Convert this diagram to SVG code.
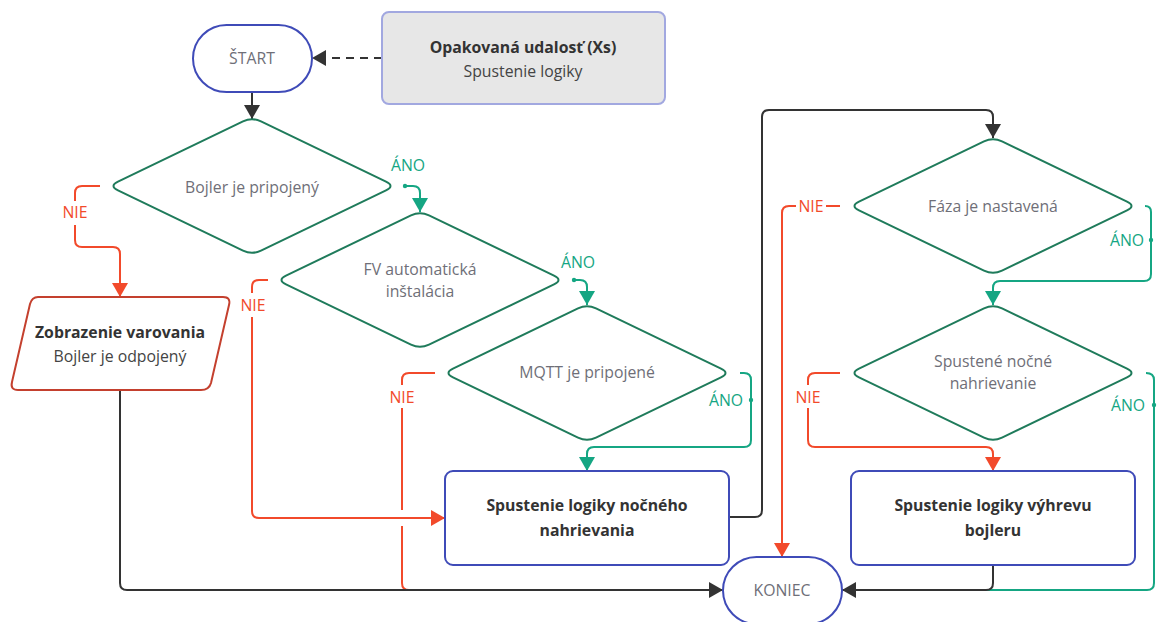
<svg xmlns="http://www.w3.org/2000/svg" width="1157" height="622" viewBox="0 0 1157 622">
<style>
text{font-family:"Open Sans","Noto Sans","Liberation Sans",sans-serif;font-size:15.8px;text-anchor:middle;dominant-baseline:central}
.t{fill:#6f6f78}
.b{fill:#333;font-weight:bold}
.n{fill:#444}
.pill{fill:#fff;stroke:#3f4bb8;stroke-width:2}
.box{fill:#fff;stroke:#3f4bb8;stroke-width:2}
.dia{fill:#fff;stroke:#1f7b5b;stroke-width:2}
.c{fill:none;stroke-width:2}
.k{stroke:#333}
.r{stroke:#f24a2b}
.g{stroke:#15a683}
.lr{fill:#f24a2b}
.lg{fill:#15a683}
</style>
<defs>
<marker id="ak" viewBox="0 0 14 16" refX="14" refY="8" markerWidth="14" markerHeight="16" markerUnits="userSpaceOnUse" orient="auto"><path d="M0,0 L14,8 L0,16 Z" fill="#333"/></marker>
<marker id="ar" viewBox="0 0 14 16" refX="14" refY="8" markerWidth="14" markerHeight="16" markerUnits="userSpaceOnUse" orient="auto"><path d="M0,0 L14,8 L0,16 Z" fill="#f24a2b"/></marker>
<marker id="ag" viewBox="0 0 14 16" refX="14" refY="8" markerWidth="14" markerHeight="16" markerUnits="userSpaceOnUse" orient="auto"><path d="M0,0 L14,8 L0,16 Z" fill="#15a683"/></marker>
<path id="dshape" d="M-134,-4.35 L-9,-64.65 Q0,-69 9,-64.65 L134,-4.35 Q143,0 134,4.35 L9,64.65 Q0,69 -9,64.65 L-134,4.35 Q-143,0 -134,-4.35 Z"/>
</defs>

<g id="connectors">
<path class="c k" d="M252,92 V119" marker-end="url(#ak)"/>
<path class="c k" d="M382,58 H312" stroke-dasharray="8,6" marker-end="url(#ak)"/>
<!-- D1 NIE -->
<path class="c r" d="M100,186 H82 Q75,186 75,193 V201"/>
<path class="c r" d="M75,225 V240 Q75,247 82,247 H113 Q120,247 120,254 V297" marker-end="url(#ar)"/>
<text class="lr" x="75" y="212">NIE</text>
<!-- D1 ANO -->
<path class="c g" d="M405,186 H413 Q420,186 420,193 V212" marker-end="url(#ag)"/>
<circle cx="405" cy="186" r="2.2" fill="#15a683"/>
<text class="lg" x="408" y="165">ÁNO</text>
<!-- D2 NIE -->
<path class="c r" d="M268,280 H259 Q252,280 252,287 V293"/>
<path class="c r" d="M252,317 V511 Q252,518 259,518 H445" marker-end="url(#ar)"/>
<text class="lr" x="253" y="305">NIE</text>
<!-- D2 ANO -->
<path class="c g" d="M574,280 H580 Q587,280 587,287 V305" marker-end="url(#ag)"/>
<circle cx="574" cy="280" r="2.2" fill="#15a683"/>
<text class="lg" x="578" y="262">ÁNO</text>
<!-- D3 NIE -->
<path class="c r" d="M435,373 H409 Q402,373 402,380 V385"/>
<path class="c r" d="M402,408 V510"/>
<path class="c r" d="M402,526 V583 Q402,590 409,590 H715"/>
<text class="lr" x="402" y="397">NIE</text>
<!-- D3 ANO -->
<path class="c g" d="M740,373 H744 Q751,373 751,380 V440 Q751,447 744,447 H594 Q587,447 587,454 V471" marker-end="url(#ag)"/>
<circle cx="751" cy="400" r="2.2" fill="#15a683"/>
<text class="lg" x="726" y="400">ÁNO</text>
<!-- Parallelogram to KONIEC -->
<path class="c k" d="M120,390 V583 Q120,590 127,590 H723" marker-end="url(#ak)"/>
<!-- nocneho to D4 -->
<path class="c k" d="M729,517 H755 Q762,517 762,510 V117 Q762,110 769,110 H986 Q993,110 993,117 V138" marker-end="url(#ak)"/>
<!-- D4 NIE -->
<path class="c r" d="M840,206 H826"/>
<path class="c r" d="M796,206 H789 Q782,206 782,213 V557" marker-end="url(#ar)"/>
<text class="lr" x="811" y="206">NIE</text>
<!-- D4 ANO -->
<path class="c g" d="M1145,206 Q1151,206 1151,212 V274 Q1151,281 1144,281 H1000 Q993,281 993,288 V305" marker-end="url(#ag)"/>
<circle cx="1151" cy="240" r="2.2" fill="#15a683"/>
<text class="lg" x="1127" y="240">ÁNO</text>
<!-- D5 NIE -->
<path class="c r" d="M840,373 H815 Q808,373 808,380 V385"/>
<path class="c r" d="M808,408 V440 Q808,447 815,447 H986 Q993,447 993,454 V471" marker-end="url(#ar)"/>
<text class="lr" x="808" y="397">NIE</text>
<!-- D5 ANO -->
<path class="c g" d="M1146,373 Q1154,373 1154,380 V583 Q1154,590 1147,590 H850"/>
<circle cx="1154" cy="405" r="2.2" fill="#15a683"/>
<text class="lg" x="1128" y="405">ÁNO</text>
<!-- vyhrevu to KONIEC -->
<path class="c k" d="M993,565 V583 Q993,590 986,590 H842" marker-end="url(#ak)"/>
</g>

<g id="start">
<rect class="pill" x="193" y="25" width="119" height="67" rx="33.5"/>
<text class="t" x="252" y="58">ŠTART</text>
</g>

<g id="event">
<rect x="382" y="12" width="283" height="92" rx="7" fill="#e7e7e7" stroke="#a2a8e0" stroke-width="2"/>
<text class="b" x="523" y="47">Opakovaná udalosť (Xs)</text>
<text class="n" x="523" y="71">Spustenie logiky</text>
</g>

<g id="d1">
<use href="#dshape" class="dia" x="252" y="186"/>
<text class="t" x="252" y="187">Bojler je pripojený</text>
</g>

<g id="d2">
<use href="#dshape" class="dia" x="420" y="280"/>
<text class="t" x="420" y="269">FV automatická</text>
<text class="t" x="420" y="291">inštalácia</text>
</g>

<g id="d3">
<use href="#dshape" class="dia" x="587" y="373"/>
<text class="t" x="587" y="372">MQTT je pripojené</text>
</g>

<g id="d4">
<use href="#dshape" class="dia" x="993" y="206"/>
<text class="t" x="993" y="206">Fáza je nastavená</text>
</g>

<g id="d5">
<use href="#dshape" class="dia" x="993" y="373"/>
<text class="t" x="993" y="361">Spustené nočné</text>
<text class="t" x="993" y="383">nahrievanie</text>
</g>

<g id="warning">
<path d="M38,297 H223 Q231,297 229,305 L211,383 Q209,390 201,390 H18 Q10,390 12,382 L30,304 Q32,297 38,297 Z" fill="#fff" stroke="#c4402e" stroke-width="2"/>
<text class="b" x="120" y="332">Zobrazenie varovania</text>
<text class="n" x="120" y="356">Bojler je odpojený</text>
</g>

<g id="night">
<rect class="box" x="445" y="471" width="284" height="94" rx="8"/>
<text class="b" x="587" y="505">Spustenie logiky nočného</text>
<text class="b" x="587" y="530">nahrievania</text>
</g>

<g id="boiler">
<rect class="box" x="851" y="471" width="284" height="94" rx="8"/>
<text class="b" x="993" y="505">Spustenie logiky výhrevu</text>
<text class="b" x="993" y="530">bojleru</text>
</g>

<g id="end">
<rect class="pill" x="723" y="557" width="119" height="67" rx="33.5"/>
<text class="t" x="782" y="590">KONIEC</text>
</g>
</svg>
